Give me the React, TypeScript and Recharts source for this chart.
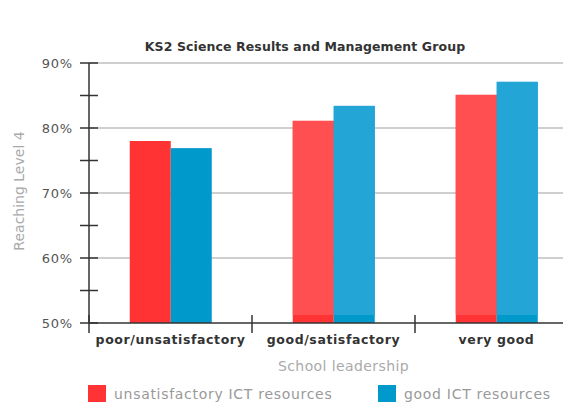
import React from 'react';
import { BarChart, Bar, XAxis, YAxis, CartesianGrid } from 'recharts';

const categories = ['poor/unsatisfactory', 'good/satisfactory', 'very good'];
const unsatisfactoryICT = [78.0, 81.1, 85.1];
const goodICT = [76.9, 83.4, 87.1];
const yTicks = [50, 55, 60, 65, 70, 75, 80, 85, 90];
const yGridValues = [60, 70, 80, 90];
const seriesNames = ['unsatisfactory ICT resources', 'good ICT resources'];
const chartTitle = 'KS2 Science Results and Management Group';
const xTitle = 'School leadership';
const yTitle = 'Reaching Level 4';

const RED = '#ff3333';
const RED_LIGHT = '#ff4f50';
const BLUE = '#0099cc';
const BLUE_LIGHT = '#23a6d6';
const FONT = '"DejaVu Sans", Verdana, sans-serif';

const data = categories.map((c, i) => ({
  category: c,
  unsat: unsatisfactoryICT[i],
  good: goodICT[i],
}));

const makeShape = (dark: string, light: string) => (props: any) => {
  const { x, y, width, height, index } = props;
  if (height == null || height <= 0) return <g />;
  const strip = 8;
  return (
    <g>
      <rect x={x} y={y} width={width} height={height} fill={dark} />
      {index > 0 && (
        <rect x={x} y={y} width={width} height={Math.max(0, height - strip)} fill={light} />
      )}
    </g>
  );
};

const YTick = (props: any) => {
  const { x, y, payload } = props;
  const major = payload.value % 10 === 0;
  return (
    <g>
      <line x1={x - 9} x2={x + 9} y1={y} y2={y} stroke="#333" strokeWidth={1.5} />
      {major && (
        <text x={x - 16} y={y} dy={5} textAnchor="end" fontFamily={FONT} fontSize={13} letterSpacing={0.8} fill="#555">
          {payload.value}%
        </text>
      )}
    </g>
  );
};

const XTick = (props: any) => {
  const { x, y, payload } = props;
  const off = payload.offset != null ? payload.offset : 81.5;
  return (
    <g>
      <line x1={x - off} x2={x - off} y1={y - 8} y2={y + 10} stroke="#333" strokeWidth={1.5} />
      <text x={x} y={y + 21} textAnchor="middle" fontFamily={FONT} fontSize={12.5} fontWeight="bold" letterSpacing={0.6} fill="#333">
        {payload.value}
      </text>
    </g>
  );
};

const YLabel = (props: any) => {
  const vb = props.viewBox || { x: 0, y: 63, width: 89, height: 260 };
  const cx = vb.x + 19;
  const cy = vb.y + vb.height / 2 - 2;
  return (
    <text
      x={cx}
      y={cy}
      transform={`rotate(-90 ${cx} ${cy})`}
      textAnchor="middle"
      dominantBaseline="central"
      fontFamily={FONT}
      fontSize={14}
      fill="#aaa"
    >
      {yTitle}
    </text>
  );
};

const XLabel = (props: any) => {
  const vb = props.viewBox || { x: 89, y: 323, width: 489, height: 50 };
  return (
    <text
      x={vb.x + vb.width / 2 + 10}
      y={vb.y + 48}
      textAnchor="middle"
      fontFamily={FONT}
      fontSize={14}
      letterSpacing={0.4}
      fill="#aaa"
    >
      {xTitle}
    </text>
  );
};

export default function App() {
  return (
    <div style={{ marginLeft: -8, marginTop: -8, width: 571, height: 403, overflow: 'hidden', position: 'relative', background: '#fff' }}>
      <div
        style={{
          position: 'absolute',
          left: 0,
          width: 610,
          top: 38,
          textAlign: 'center',
          fontFamily: FONT,
          fontSize: 12.5,
          fontWeight: 'bold',
          letterSpacing: 0.1,
          color: '#333',
          lineHeight: '17px',
          whiteSpace: 'nowrap',
        }}
      >
        {chartTitle}
      </div>
      <BarChart
        width={600}
        height={403}
        data={data}
        margin={{ top: 63, right: 22, bottom: 30, left: 0 }}
        barCategoryGap="25%"
        barGap={0}
      >
        <CartesianGrid horizontal vertical={false} horizontalValues={yGridValues} stroke="#a0a0a0" strokeWidth={1.2} />
        <XAxis
          dataKey="category"
          height={50}
          tickSize={0}
          tickMargin={0}
          tick={<XTick />}
          axisLine={{ stroke: '#333', strokeWidth: 1.5 }}
          tickLine={false}
          interval={0}
          label={<XLabel />}
        />
        <YAxis
          width={89}
          domain={[50, 90]}
          ticks={yTicks}
          type="number"
          allowDataOverflow
          tickSize={0}
          tickMargin={0}
          tick={<YTick />}
          tickLine={false}
          axisLine={{ stroke: '#333', strokeWidth: 1.5 }}
          interval={0}
          label={<YLabel />}
        />
        <Bar dataKey="unsat" name={seriesNames[0]} fill={RED} isAnimationActive={false} shape={makeShape(RED, RED_LIGHT)} />
        <Bar dataKey="good" name={seriesNames[1]} fill={BLUE} isAnimationActive={false} shape={makeShape(BLUE, BLUE_LIGHT)} />
      </BarChart>
      <div style={{ position: 'absolute', left: 88, top: 385, display: 'flex', alignItems: 'center', fontFamily: FONT, fontSize: 14, letterSpacing: 0.7, color: '#999', whiteSpace: 'nowrap' }}>
        <span style={{ display: 'inline-block', width: 18, height: 17, background: RED, marginRight: 8 }} />
        {seriesNames[0]}
      </div>
      <div style={{ position: 'absolute', left: 378, top: 385, display: 'flex', alignItems: 'center', fontFamily: FONT, fontSize: 14, letterSpacing: 0.7, color: '#999', whiteSpace: 'nowrap' }}>
        <span style={{ display: 'inline-block', width: 18, height: 17, background: BLUE, marginRight: 8 }} />
        {seriesNames[1]}
      </div>
    </div>
  );
}
